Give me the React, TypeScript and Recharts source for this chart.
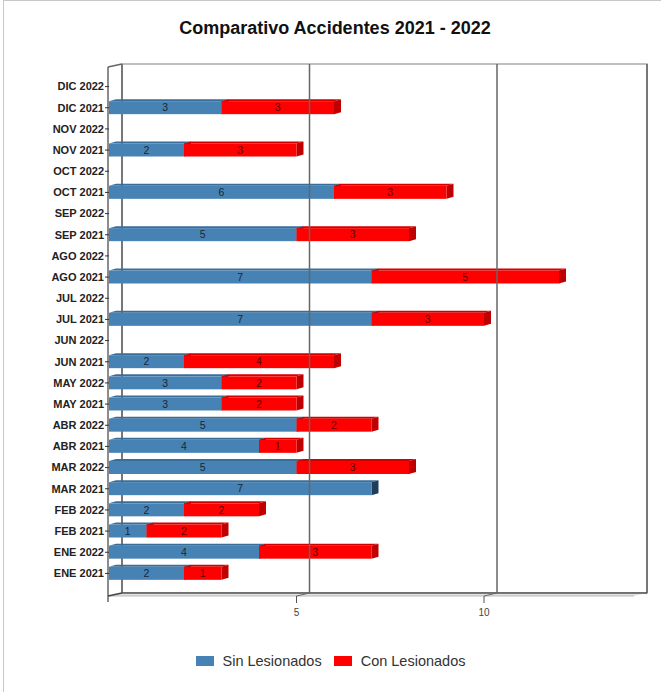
import React from 'react';
import { BarChart, Bar, XAxis, YAxis, ReferenceArea, ReferenceLine, LabelList } from 'recharts';

// categories bottom -> top (axis is reversed so DIC 2022 ends up on top)
const meses = [
  'ENE 2021', 'ENE 2022', 'FEB 2021', 'FEB 2022', 'MAR 2021', 'MAR 2022',
  'ABR 2021', 'ABR 2022', 'MAY 2021', 'MAY 2022', 'JUN 2021', 'JUN 2022',
  'JUL 2021', 'JUL 2022', 'AGO 2021', 'AGO 2022', 'SEP 2021', 'SEP 2022',
  'OCT 2021', 'OCT 2022', 'NOV 2021', 'NOV 2022', 'DIC 2021', 'DIC 2022',
];
const sinLesionados = [2, 4, 1, 2, 7, 5, 4, 5, 3, 3, 2, null, 7, null, 7, null, 5, null, 6, null, 2, null, 3, null];
const conLesionados = [1, 3, 2, 2, 0, 3, 1, 2, 2, 2, 4, null, 3, null, 5, null, 3, null, 3, null, 3, null, 3, null];
const xTicks = [5, 10];
const xMax = 14;

const data = meses.map((mes, i) => ({ mes, sin: sinLesionados[i], con: conLesionados[i] }));

// 3d look
const DX = 13;
const DY = -3;
const PAD_T = 9;
const PAD_B = 12;
const BAR_DX = 7;
const BAR_DY = -2;

const BLUE = '#4682B4';
const RED = '#FF0000';

const shade = (fill: string) => (fill === RED ? '#C00000' : '#1F3E5C');
const topShade = (fill: string) => (fill === RED ? '#D40000' : '#3A6E99');

const Bar3D = (props: any) => {
  const { x, y, width, height, fill } = props;
  if (!width || width <= 0) return null;
  const r = x + width;
  return (
    <g>
      <polygon
        points={`${x},${y} ${x + BAR_DX},${y + BAR_DY} ${r + BAR_DX},${y + BAR_DY} ${r},${y}`}
        fill={topShade(fill)}
      />
      <polygon
        points={`${r},${y} ${r + BAR_DX},${y + BAR_DY} ${r + BAR_DX},${y + height + BAR_DY} ${r},${y + height}`}
        fill={shade(fill)}
      />
      <rect x={x} y={y} width={width} height={height} fill={fill} />
    </g>
  );
};

const Frame = (props: any) => {
  const { x, y, width, height } = props;
  const top = y - PAD_T;
  const bot = y + height + PAD_B;
  const right = x + width;
  return (
    <g>
      <rect x={x + DX} y={top + DY} width={width} height={bot - top} fill="#fff" stroke="#aaa" strokeWidth={1.5} />
      <polygon
        points={`${x},${bot} ${x + DX},${bot + DY} ${right + DX},${bot + DY} ${right},${bot}`}
        fill="#e2e2e2"
      />
      <line x1={right + DX} y1={top + DY} x2={right + DX} y2={bot + DY} stroke="#777" strokeWidth={2} />
      <line x1={x + DX} y1={top + DY} x2={x + DX} y2={bot + DY} stroke="#777" strokeWidth={2} />
      <line x1={x + DX} y1={bot + DY} x2={right + DX} y2={bot + DY} stroke="#555" strokeWidth={1.5} />
      <line x1={x} y1={bot} x2={right} y2={bot} stroke="#bbb" strokeWidth={1} />
      <line x1={x - 1} y1={top} x2={x - 1} y2={bot + 6} stroke="#666" strokeWidth={1.5} />
      <line x1={x - 1} y1={top} x2={x + DX} y2={top + DY} stroke="#666" strokeWidth={1.5} />
      <line x1={x - 1} y1={bot} x2={x + DX} y2={bot + DY} stroke="#444" strokeWidth={1.5} />
    </g>
  );
};

const GridTick = (props: any) => {
  const { x1, y1, y2, value } = props;
  const top = Math.min(y1, y2) - PAD_T;
  const bot = Math.max(y1, y2) + PAD_B;
  return (
    <g>
      <line x1={x1 + DX} y1={top + DY} x2={x1 + DX} y2={bot + DY} stroke="#666" strokeWidth={1.5} />
      <line x1={x1} y1={bot} x2={x1 + DX} y2={bot + DY} stroke="#666" strokeWidth={1} />
      <line x1={x1} y1={bot} x2={x1} y2={bot + 7} stroke="#555" strokeWidth={1} />
      <text x={x1} y={bot + 20} textAnchor="middle" fontSize={10} fill="#444">
        {value}
      </text>
    </g>
  );
};

const fmt = (v: any) => (v ? v : '');

const legendItems = [
  { name: 'Sin Lesionados', color: BLUE },
  { name: 'Con Lesionados', color: RED },
];

export default function App() {
  return (
    <div
      style={{
        position: 'absolute',
        left: 0,
        top: 0,
        width: 661,
        height: 692,
        background: '#fff',
        fontFamily: '"Liberation Sans", Arial, sans-serif',
        overflow: 'hidden',
      }}
    >
      <div style={{ position: 'absolute', left: 3, top: 0, width: 1, height: 692, background: '#c8c8c8' }} />
      <div style={{ position: 'absolute', left: 3, top: 0, width: 658, height: 1, background: '#c8c8c8' }} />
      <div
        style={{
          position: 'absolute',
          top: 18,
          left: 0,
          width: 670,
          textAlign: 'center',
          fontSize: 18,
          fontWeight: 'bold',
          color: '#111',
        }}
      >
        Comparativo Accidentes 2021 - 2022
      </div>
      <BarChart
        width={661}
        height={692}
        data={data}
        layout="vertical"
        margin={{ top: 76, right: 27, bottom: 108, left: 9 }}
        barSize={13}
      >
        <XAxis type="number" domain={[0, xMax]} hide />
        <YAxis
          type="category"
          dataKey="mes"
          reversed
          width={100}
          interval={0}
          axisLine={false}
          tickSize={4}
          tickMargin={1}
          tickLine={{ stroke: '#333' }}
          tick={{ fontSize: 11, fontWeight: 'bold', fill: '#222' }}
        />
        <ReferenceArea x1={0} x2={xMax} ifOverflow="visible" shape={(p: any) => <Frame {...p} />} />
        {xTicks.map((t) => (
          <ReferenceLine key={t} x={t} ifOverflow="visible" shape={(p: any) => <GridTick {...p} value={t} />} />
        ))}
        <Bar dataKey="sin" stackId="a" fill={BLUE} shape={(p: any) => <Bar3D {...p} />} isAnimationActive={false}>
          <LabelList dataKey="sin" position="center" formatter={fmt} fontSize={10.5} fill="#1b2733" />
        </Bar>
        <Bar dataKey="con" stackId="a" fill={RED} shape={(p: any) => <Bar3D {...p} />} isAnimationActive={false}>
          <LabelList dataKey="con" position="center" formatter={fmt} fontSize={10.5} fill="#5a0000" />
        </Bar>
      </BarChart>
      <div
        style={{
          position: 'absolute',
          top: 653,
          left: 0,
          width: 661,
          display: 'flex',
          justifyContent: 'center',
          fontSize: 14.5,
          color: '#333',
        }}
      >
        {legendItems.map((it) => (
          <div key={it.name} style={{ display: 'flex', alignItems: 'center', margin: '0 6px' }}>
            <span style={{ display: 'inline-block', width: 18, height: 10, background: it.color, marginRight: 9 }} />
            <span>{it.name}</span>
          </div>
        ))}
      </div>
    </div>
  );
}
